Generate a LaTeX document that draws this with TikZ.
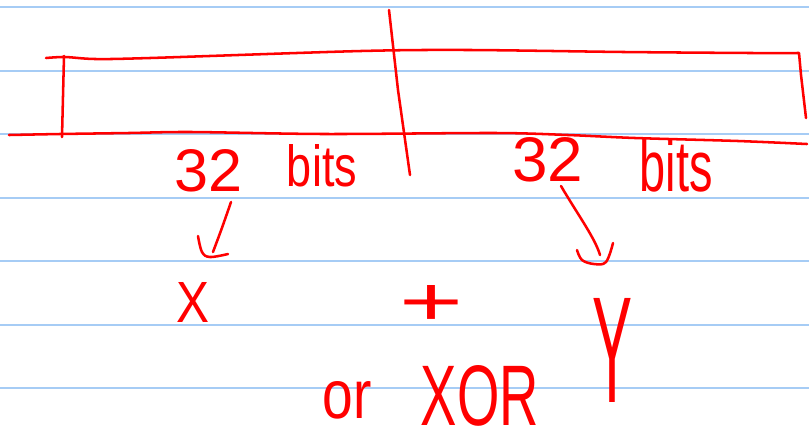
\documentclass[tikz,border=0pt]{standalone}
\usepackage{fontspec}
\setmainfont{Liberation Sans}
\setsansfont{Liberation Sans}
\usepackage{graphicx}
\definecolor{ink}{RGB}{255,0,0}
\definecolor{ruleblue}{RGB}{166,204,245}
\newlength\pxu
\setlength\pxu{0.75pt}
\begin{document}
\begin{tikzpicture}[x=0.75pt,y=-0.75pt,
  pen/.style={draw=ink,line width=1.9pt,line cap=round,line join=round},
  hand/.style={text=ink,inner sep=0pt,font=\sffamily},
  paperline/.style={draw=ruleblue,line width=1.5pt}]
\useasboundingbox (0,0) rectangle (809,437);
\fill[white] (0,0) rectangle (809,437);
\foreach \yy in {7,70.5,134,197.5,261,324.5,388}
  \draw[paperline] (0,\yy) -- (809,\yy);
% the long box
\draw[pen] plot[smooth,tension=0.5] coordinates {(46,58)(65,57)(95,59)(150,58)(361,51)(470,50)(624,52)(751,53)(799,53)} -- (801,75) -- (806,118);
\draw[pen] (64,56) -- (62,137);
\draw[pen] plot[smooth,tension=0.5] coordinates {(9,135)(60,134)(129,133)(191,132)(325,134)(495,133)(568,135)(635,138)(738,141)(807,144)};
\draw[pen] (389,10) -- (398,90) -- (410,175);
% labels
\node[hand] (n32a) at (209,171) {\resizebox{68\pxu}{42\pxu}{32}};
\node[hand] (bitsa) at (322,166) {\resizebox{70\pxu}{42\pxu}{bits}};
\node[hand] (n32b) at (548,160) {\resizebox{71\pxu}{44\pxu}{32}};
\node[hand] (bitsb) at (676,166) {\resizebox{73\pxu}{52\pxu}{bits}};
\node[hand] (X) at (193,302) {\resizebox{33\pxu}{40\pxu}{X}};
\node[hand] (plus) at (431,305) {\resizebox{64\pxu}{40\pxu}{+}};
\node[hand] (Y) at (612,350) {\resizebox{40\pxu}{104\pxu}{Y}};
\node[hand] (orw) at (347,400) {\resizebox{49\pxu}{37\pxu}{or}};
\node[hand] (xorw) at (480,396) {\resizebox{118\pxu}{60\pxu}{XOR}};
% arrows
\coordinate (la) at (231,202);
\coordinate (lb) at (213,252);
\coordinate (ra) at (561,186);
\coordinate (rb) at (600,255);
\draw[pen] (la) .. controls (222,228) .. (lb);
\draw[pen] plot[smooth,tension=0.6] coordinates {(198,236)(202,252)(210,257)(228,254)};
\draw[pen] (ra) .. controls (578,215) and (595,238) .. (rb);
\draw[pen] plot[smooth,tension=0.6] coordinates {(577,250)(582,260)(594,264)(606,262)(613,243)};
\end{tikzpicture}
\end{document}
